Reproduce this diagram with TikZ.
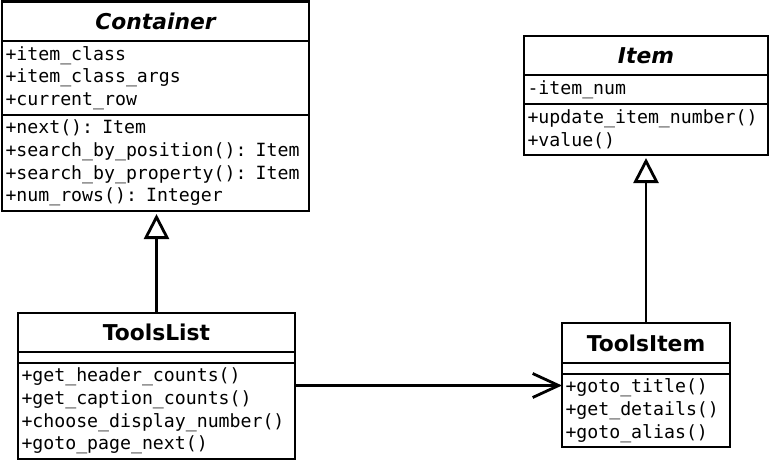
\documentclass[tikz,border=0pt]{standalone}
\usepackage{fontspec}
\setmainfont{DejaVu Sans}
\setmonofont{DejaVu Sans Mono}
\usetikzlibrary{positioning}
\usetikzlibrary{arrows.meta}
\usetikzlibrary{calc}

\begin{document}
\begin{tikzpicture}[x=1pt, y=-1pt,
  classbox/.style={draw, line width=2.8pt, outer sep=0pt, inner sep=0pt},
  classname/.style={classbox, font=\fontsize{21.8}{25}\selectfont\bfseries},
  members/.style={classbox, inner xsep=3.5pt, align=left, font=\fontsize{18.2}{22.7}\selectfont\ttfamily},
  inherit/.style={line width=2.8pt, -{Triangle[open, length=25pt, width=25pt]}},
  assoc/.style={line width=2.8pt, -{Straight Barb[length=26pt, width=24pt]}}
]
\useasboundingbox (0,0) rectangle (770,461);

% Container
\node[classname, anchor=north west, minimum width=307pt, minimum height=39.5pt] (cTitle) at (2,1.5) {\itshape Container};
\node[members, below=0pt of cTitle, text width=300pt, minimum height=74pt] (cAttr) {+item\_class\\+item\_class\_args\\+current\_row};
\node[members, below=0pt of cAttr, text width=300pt, minimum height=96pt] (cMeth) {+next(): Item\\+search\_by\_position(): Item\\+search\_by\_property(): Item\\+num\_rows(): Integer};

% Item
\node[classname, anchor=north west, minimum width=244pt, minimum height=39pt] (iTitle) at (524,36) {\itshape Item};
\node[members, below=0pt of iTitle, text width=237pt, minimum height=29pt] (iAttr) {-item\_num};
\node[members, below=0pt of iAttr, text width=237pt, minimum height=51pt] (iMeth) {+update\_item\_number()\\+value()};

% ToolsList
\node[classname, anchor=north west, minimum width=277pt, minimum height=39pt] (tlTitle) at (18,313) {ToolsList};
\node[classbox, below=0pt of tlTitle, minimum width=277pt, minimum height=11pt] (tlAttr) {};
\node[members, below=0pt of tlAttr, text width=270pt, minimum height=96pt] (tlMeth) {+get\_header\_counts()\\+get\_caption\_counts()\\+choose\_display\_number()\\+goto\_page\_next()};

% ToolsItem
\node[classname, anchor=north west, minimum width=168pt, minimum height=40pt] (tiTitle) at (562,323) {ToolsItem};
\node[classbox, below=0pt of tiTitle, minimum width=168pt, minimum height=11pt] (tiAttr) {};
\node[members, below=0pt of tiAttr, text width=161pt, minimum height=73pt] (tiMeth) {+goto\_title()\\+get\_details()\\+goto\_alias()};

% relations
\draw[inherit] (tlTitle.north) -- ([yshift=-3pt]tlTitle.north |- cMeth.south);
\draw[inherit] (tiTitle.north) -- ([yshift=-3pt]iMeth.south);
\draw[assoc] ([yshift=-22.5pt]tlMeth.north east) -- ([yshift=-22.5pt]tlMeth.north east -| tiMeth.west);
\end{tikzpicture}
\end{document}
